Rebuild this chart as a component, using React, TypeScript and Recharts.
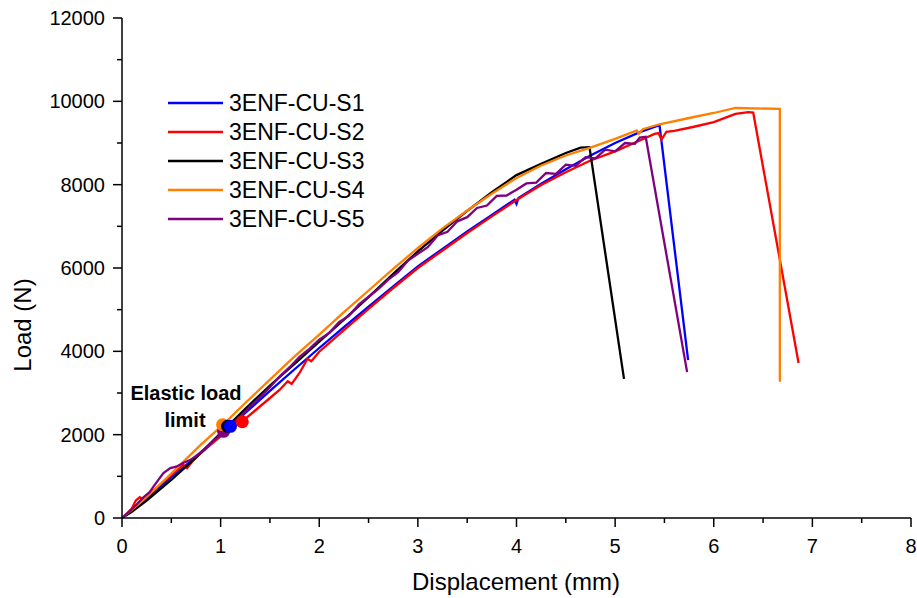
import React from 'react';
import { ComposedChart, Line, XAxis, YAxis, ReferenceDot, Customized } from 'recharts';

const FONT = '"Liberation Sans", Arial, Helvetica, sans-serif';

const seriesNames = ['3ENF-CU-S1', '3ENF-CU-S2', '3ENF-CU-S3', '3ENF-CU-S4', '3ENF-CU-S5'];
const seriesColors = ['#0000FF', '#FF0000', '#000000', '#FF8000', '#800080'];

const xTicks = [0, 0.5, 1, 1.5, 2, 2.5, 3, 3.5, 4, 4.5, 5, 5.5, 6, 6.5, 7, 7.5, 8];
const xTickLabels = [0, 1, 2, 3, 4, 5, 6, 7, 8];
const yTicks = [0, 1000, 2000, 3000, 4000, 5000, 6000, 7000, 8000, 9000, 10000, 11000, 12000];
const yTickLabels = [0, 2000, 4000, 6000, 8000, 10000, 12000];

const s1: [number, number][] = [
  [0, 0], [0.1, 180], [0.2, 380], [0.3, 590], [0.4, 790], [0.5, 980], [0.6, 1170], [0.7, 1370],
  [0.8, 1570], [0.9, 1780], [1.0, 1990], [1.1, 2200], [1.25, 2520], [1.5, 3050], [1.75, 3570],
  [2.0, 4080], [2.25, 4580], [2.5, 5070], [2.75, 5560], [3.0, 6040], [3.25, 6460], [3.5, 6880],
  [3.75, 7270], [3.98, 7640], [4.0, 7540], [4.02, 7680], [4.25, 8020], [4.5, 8370], [4.75, 8700],
  [5.0, 9000], [5.25, 9260], [5.45, 9430], [5.74, 3790],
];

const s2: [number, number][] = [
  [0, 0], [0.05, 100], [0.1, 230], [0.14, 420], [0.18, 500], [0.22, 440], [0.27, 560], [0.35, 720],
  [0.45, 930], [0.55, 1130], [0.62, 1280], [0.66, 1200], [0.72, 1380], [0.8, 1560], [0.9, 1760],
  [1.0, 1960], [1.1, 2130], [1.22, 2320], [1.35, 2580], [1.5, 2880], [1.6, 3080], [1.68, 3280],
  [1.72, 3220], [1.8, 3480], [1.88, 3820], [1.92, 3760], [2.0, 3990], [2.25, 4510], [2.5, 5020],
  [2.75, 5520], [3.0, 6000], [3.25, 6420], [3.5, 6840], [3.75, 7240], [4.0, 7630], [4.25, 7990],
  [4.5, 8300], [4.75, 8580], [5.0, 8800], [5.25, 9060], [5.4, 9220], [5.44, 9240], [5.47, 9080],
  [5.52, 9270], [5.6, 9290], [5.8, 9390], [6.0, 9500], [6.22, 9700], [6.35, 9740], [6.4, 9730],
  [6.86, 3720],
];

const s3: [number, number][] = [
  [0, 0], [0.1, 150], [0.25, 420], [0.4, 720], [0.5, 912], [0.75, 1450], [1.0, 2040], [1.25, 2620],
  [1.5, 3180], [1.75, 3700], [2.0, 4230], [2.25, 4760], [2.5, 5300], [2.75, 5860], [3.0, 6400],
  [3.25, 6900], [3.5, 7370], [3.75, 7820], [4.0, 8230], [4.25, 8500], [4.5, 8760], [4.65, 8890],
  [4.74, 8900], [5.09, 3340],
];

const s4: [number, number][] = [
  [0, 0], [0.2, 400], [0.4, 840], [0.6, 1300], [0.8, 1760], [1.02, 2230], [1.25, 2760], [1.5, 3320],
  [1.75, 3880], [2.0, 4400], [2.25, 4940], [2.5, 5460], [2.75, 5980], [3.0, 6480], [3.25, 6950],
  [3.5, 7380], [3.75, 7780], [4.0, 8160], [4.25, 8460], [4.5, 8700], [4.75, 8890], [5.0, 9100],
  [5.22, 9300], [5.24, 9220], [5.28, 9330], [5.45, 9450], [5.75, 9600], [6.0, 9720], [6.22, 9840],
  [6.67, 9820], [6.67, 3270],
];

const s5: [number, number][] = [
  [0, 0], [0.08, 170], [0.15, 330], [0.22, 500], [0.28, 620], [0.33, 790], [0.38, 950], [0.42, 1080],
  [0.49, 1200], [0.55, 1230], [0.62, 1320], [0.69, 1390], [0.74, 1470], [0.79, 1560], [0.86, 1700],
  [0.93, 1860], [1.03, 2070], [1.1, 2220], [1.2, 2430], [1.3, 2680], [1.4, 2900], [1.5, 3140],
  [1.6, 3400], [1.7, 3620], [1.8, 3870], [1.9, 4060], [2.0, 4280], [2.1, 4440], [2.2, 4700],
  [2.3, 4850], [2.4, 5120], [2.5, 5310], [2.6, 5500], [2.7, 5720], [2.8, 5900], [2.9, 6180],
  [3.0, 6340], [3.1, 6500], [3.2, 6780], [3.3, 6870], [3.4, 7120], [3.5, 7220], [3.6, 7440],
  [3.7, 7500], [3.8, 7730], [3.9, 7740], [4.0, 7880], [4.1, 8030], [4.2, 8050], [4.3, 8280],
  [4.4, 8260], [4.5, 8480], [4.6, 8450], [4.7, 8660], [4.8, 8630], [4.9, 8840], [5.0, 8800],
  [5.1, 9000], [5.2, 8980], [5.25, 9130], [5.31, 9150], [5.73, 3500],
];

// elastic load limit points, in drawing order: S5, S4, S3, S1, S2
const elasticOrder = [4, 3, 2, 0, 1];
const elasticX = [1.10, 1.22, 1.07, 1.02, 1.03];
const elasticY = [2200, 2310, 2200, 2240, 2080];

const allSeries = [s1, s2, s3, s4, s5].map((s) => s.map(([x, y]) => ({ x, y })));

const XTick = (props: any) => {
  const { x, y, payload } = props;
  const v = payload.value;
  const major = xTickLabels.includes(v);
  return (
    <g>
      <line x1={x} x2={x} y1={y} y2={y + (major ? 9 : 5)} stroke="#000" strokeWidth={1.5} />
      {major && (
        <text x={x} y={y + 35} textAnchor="middle" fontSize={20} fontFamily={FONT} fill="#000">
          {v}
        </text>
      )}
    </g>
  );
};

const YTick = (props: any) => {
  const { x, y, payload } = props;
  const v = payload.value;
  const major = yTickLabels.includes(v);
  return (
    <g>
      <line x1={x} x2={x - (major ? 9 : 5)} y1={y} y2={y} stroke="#000" strokeWidth={1.5} />
      {major && (
        <text x={x - 17} y={y + 7} textAnchor="end" fontSize={20} fontFamily={FONT} fill="#000">
          {v}
        </text>
      )}
    </g>
  );
};

const Overlay = () => (
  <g fontFamily={FONT} fill="#000">
    <text x={516} y={590} textAnchor="middle" fontSize={24}>Displacement (mm)</text>
    <text x={31} y={325} textAnchor="middle" fontSize={24} transform="rotate(-90, 31, 325)">Load (N)</text>
    <text x={186} y={400} textAnchor="middle" fontSize={20} fontWeight="bold">Elastic load</text>
    <text x={185} y={427} textAnchor="middle" fontSize={20} fontWeight="bold">limit</text>
    {seriesNames.map((n, i) => (
      <g key={n}>
        <line x1={168} x2={223} y1={103 + i * 29} y2={103 + i * 29} stroke={seriesColors[i]} strokeWidth={2.5} />
        <text x={229} y={111 + i * 29} fontSize={23}>{n}</text>
      </g>
    ))}
  </g>
);

export default function App() {
  return (
    <div style={{ position: 'absolute', left: 0, top: 0, width: 917, height: 598, background: '#fff' }}>
      <ComposedChart width={917} height={598} margin={{ top: 18, right: 6, bottom: 0, left: 0 }}>
        <XAxis
          type="number"
          dataKey="x"
          domain={[0, 8]}
          ticks={xTicks}
          interval={0}
          allowDataOverflow
          height={80}
          tickSize={0}
          tickMargin={0}
          tickLine={false}
          tick={<XTick />}
          axisLine={{ stroke: '#000', strokeWidth: 1.5 }}
        />
        <YAxis
          type="number"
          dataKey="y"
          domain={[0, 12000]}
          ticks={yTicks}
          interval={0}
          allowDataOverflow
          width={122}
          tickSize={0}
          tickMargin={0}
          tickLine={false}
          tick={<YTick />}
          axisLine={{ stroke: '#000', strokeWidth: 1.5 }}
        />
        {allSeries.map((d, i) => (
          <Line
            key={seriesNames[i]}
            data={d}
            dataKey="y"
            name={seriesNames[i]}
            type="linear"
            stroke={seriesColors[i]}
            strokeWidth={2.3}
            dot={false}
            activeDot={false}
            isAnimationActive={false}
          />
        ))}
        {elasticOrder.map((i) => (
          <ReferenceDot
            key={'e' + i}
            x={elasticX[i]}
            y={elasticY[i]}
            r={6.5}
            fill={seriesColors[i]}
            stroke="none"
          />
        ))}
        <Customized component={Overlay} />
      </ComposedChart>
    </div>
  );
}
